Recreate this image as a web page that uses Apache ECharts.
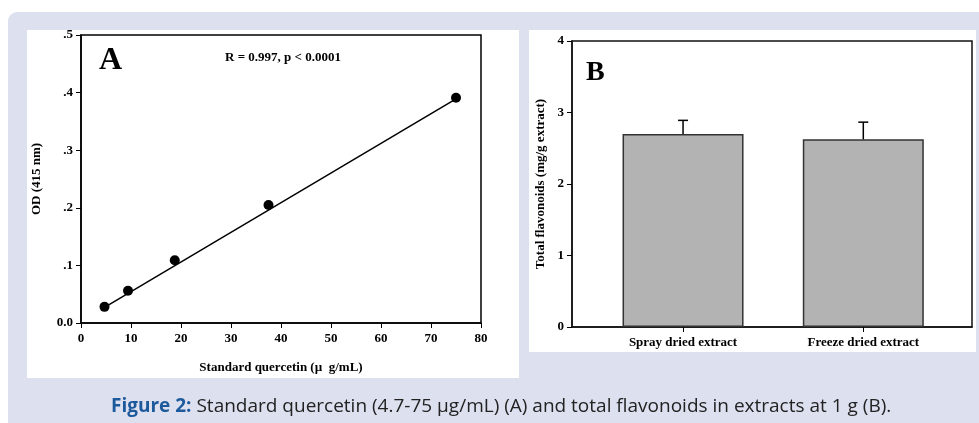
<!DOCTYPE html>
<html>
<head>
<meta charset="utf-8">
<script src="https://cdn.jsdelivr.net/npm/echarts@6/dist/echarts.min.js"></script>
<style>
html,body{margin:0;padding:0;background:#fff;}
#c{width:979px;height:423px;}
</style>
</head>
<body>
<div id="c"></div>
<script>
// ---- Panel A data ----
const quercetinConc = [4.7, 9.4, 18.75, 37.5, 75];
const odValues = [0.028, 0.056, 0.109, 0.205, 0.391];
const fitX = [4.7, 75];
const fitY = [0.027, 0.389];
const aXTicks = [0, 10, 20, 30, 40, 50, 60, 70, 80];
const aYTickLabels = ['0.0', '.1', '.2', '.3', '.4', '.5'];

// ---- Panel B data ----
const extractCategories = ['Spray dried extract', 'Freeze dried extract'];
const flavonoidValues = [2.70, 2.625];
const flavonoidErrors = [0.19, 0.24];
const bYTicks = [0, 1, 2, 3, 4];

const SERIF = '"Liberation Serif", "Times New Roman", serif';
const chart = echarts.init(document.getElementById('c'), null, {renderer: 'canvas'});

const labelStyle = {color: '#000', fontFamily: SERIF, fontWeight: 'bold', fontSize: 13};
const catPos = extractCategories.map((_, i) => i + 1);

const option = {
  backgroundColor: '#ffffff',
  animation: false,
  graphic: [
    {type: 'rect', z: -10, silent: true, shape: {x: 8, y: 12, width: 971, height: 420, r: [9, 0, 0, 0]}, style: {fill: '#dde1ef'}},
    {type: 'rect', z: -9, silent: true, shape: {x: 27, y: 30, width: 492, height: 348}, style: {fill: '#ffffff'}},
    {type: 'rect', z: -9, silent: true, shape: {x: 529, y: 30, width: 447, height: 322}, style: {fill: '#ffffff'}},
    {type: 'text', z: 10, left: 99, top: 45, style: {text: 'A', font: 'bold 32px ' + SERIF, fill: '#000'}},
    {type: 'text', z: 10, x: 283, y: 58, style: {text: 'R = 0.997, p < 0.0001', font: 'bold 13px ' + SERIF, fill: '#000', align: 'center', verticalAlign: 'middle'}},
    {type: 'text', z: 10, left: 586, top: 59, style: {text: 'B', font: 'bold 28px ' + SERIF, fill: '#000'}},
    {type: 'text', z: 10, x: 111, y: 407, style: {
      text: '{b|Figure 2:} Standard quercetin (4.7-75 µg/mL) (A) and total flavonoids in extracts at 1 g (B).',
      fontFamily: '"Open Sans", sans-serif', fontSize: 19, fill: '#222', verticalAlign: 'middle',
      rich: {b: {fontFamily: '"Open Sans", sans-serif', fontSize: 19, fontWeight: 'bold', fill: '#1d5a9c'}}
    }}
  ],
  grid: [
    {left: 81, top: 35, right: 498, bottom: 100, show: true, borderColor: '#000', borderWidth: 1.5, backgroundColor: 'transparent', containLabel: false},
    {left: 572, top: 41, right: 7, bottom: 96, show: true, borderColor: '#111', borderWidth: 1.5, backgroundColor: 'transparent', containLabel: false}
  ],
  xAxis: [
    {
      gridIndex: 0, type: 'value', min: 0, max: 80, interval: 10,
      name: 'Standard quercetin (µ  g/mL)', nameLocation: 'middle', nameGap: 38,
      nameTextStyle: labelStyle,
      axisLine: {lineStyle: {color: '#000', width: 1.5}},
      axisTick: {show: true, length: 5, lineStyle: {color: '#000'}},
      axisLabel: Object.assign({margin: 9, formatter: v => aXTicks.includes(v) ? String(v) : ''}, labelStyle),
      splitLine: {show: false}
    },
    {
      gridIndex: 1, type: 'value', min: 0.384, max: 2.603,
      axisLine: {lineStyle: {color: '#111', width: 1.5}},
      axisTick: {show: true, length: 5, customValues: catPos, lineStyle: {color: '#000'}},
      axisLabel: Object.assign({margin: 9, customValues: catPos, formatter: v => extractCategories[Math.round(v) - 1] || ''}, labelStyle),
      splitLine: {show: false}
    }
  ],
  yAxis: [
    {
      gridIndex: 0, type: 'value', min: 0, max: 0.5, interval: 0.1,
      name: 'OD (415 nm)', nameLocation: 'middle', nameGap: 38, nameRotate: 90,
      nameTextStyle: labelStyle,
      axisLine: {show: true, lineStyle: {color: '#000', width: 1.5}},
      axisTick: {show: true, length: 5, lineStyle: {color: '#000'}},
      axisLabel: Object.assign({margin: 8, formatter: v => aYTickLabels[Math.round(v * 10)]}, labelStyle),
      splitLine: {show: false}
    },
    {
      gridIndex: 1, type: 'value', min: 0, max: 4, interval: 1,
      name: 'Total flavonoids (mg/g extract)', nameLocation: 'middle', nameGap: 25, nameRotate: 90,
      nameTextStyle: labelStyle,
      axisLine: {show: true, lineStyle: {color: '#111', width: 1.5}},
      axisTick: {show: true, length: 5, lineStyle: {color: '#000'}},
      axisLabel: Object.assign({margin: 8, formatter: v => bYTicks.includes(v) ? String(v) : ''}, labelStyle),
      splitLine: {show: false}
    }
  ],
  series: [
    {
      type: 'line', xAxisIndex: 0, yAxisIndex: 0,
      data: fitX.map((x, i) => [x, fitY[i]]),
      showSymbol: false, symbol: 'none',
      lineStyle: {color: '#000', width: 1.5}, z: 2
    },
    {
      type: 'scatter', xAxisIndex: 0, yAxisIndex: 0,
      data: quercetinConc.map((x, i) => [x, odValues[i]]),
      symbol: 'circle', symbolSize: 10,
      itemStyle: {color: '#000', opacity: 1}, z: 3
    },
    {
      type: 'bar', xAxisIndex: 1, yAxisIndex: 1,
      data: catPos.map((x, i) => [x, flavonoidValues[i]]),
      barWidth: 121,
      itemStyle: {color: '#b3b3b3', borderColor: '#333', borderWidth: 1.5}, z: 2
    },
    {
      type: 'custom', xAxisIndex: 1, yAxisIndex: 1,
      data: catPos.map((x, i) => [x, flavonoidValues[i], flavonoidErrors[i]]),
      renderItem: function (params, api) {
        const x = api.value(0), v = api.value(1), e = api.value(2);
        const p0 = api.coord([x, v]);
        const p1 = api.coord([x, v + e]);
        const style = {stroke: '#000', lineWidth: 1.5};
        return {type: 'group', children: [
          {type: 'line', shape: {x1: p0[0], y1: p0[1], x2: p1[0], y2: p1[1]}, style: style},
          {type: 'line', shape: {x1: p1[0] - 5, y1: p1[1], x2: p1[0] + 5, y2: p1[1]}, style: style}
        ]};
      },
      z: 3
    }
  ]
};
chart.setOption(option);
</script>
</body>
</html>
